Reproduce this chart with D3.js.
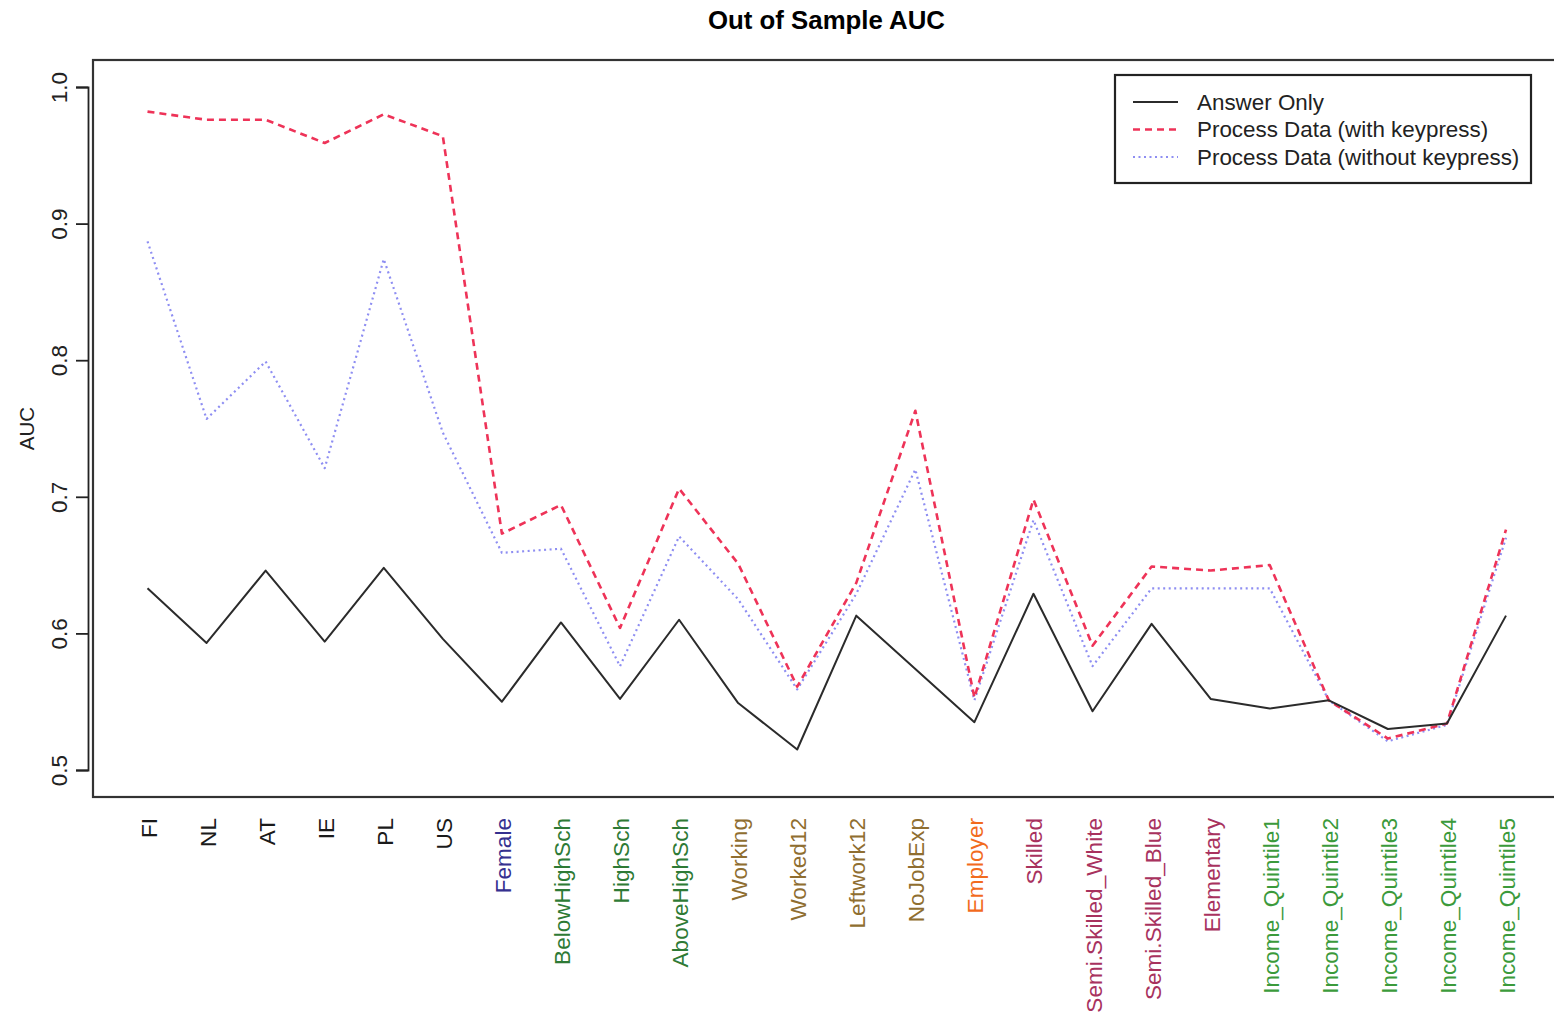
<!DOCTYPE html>
<html>
<head>
<meta charset="utf-8">
<script src="https://cdn.jsdelivr.net/npm/d3@7"></script>
<style>
  body { margin: 0; background: #fff; }
  svg { display: block; font-family: "Liberation Sans", Arial, sans-serif; }
</style>
</head>
<body>
<div id="chart"></div>
<script>
// categories along the x axis
var categories = ["FI", "NL", "AT", "IE", "PL", "US", "Female", "BelowHighSch", "HighSch",
  "AboveHighSch", "Working", "Worked12", "Leftwork12", "NoJobExp", "Employer", "Skilled",
  "Semi.Skilled_White", "Semi.Skilled_Blue", "Elementary", "Income_Quintile1",
  "Income_Quintile2", "Income_Quintile3", "Income_Quintile4", "Income_Quintile5"];

// label colour group for each category
var labelGroups = ["country", "country", "country", "country", "country", "country", "gender",
  "edu", "edu", "edu", "work", "work", "work", "work", "employer", "skill",
  "skill", "skill", "skill", "income", "income", "income", "income", "income"];

var groupColors = {
  country: "#1a1a1a", gender: "#35308f", edu: "#2e7a35", work: "#8f6e30",
  employer: "#f26b1d", skill: "#a8325e", income: "#3b9a3b"
};

// AUC values
var answerOnly = [0.633, 0.593, 0.646, 0.594, 0.648, 0.596, 0.550, 0.608, 0.552, 0.610, 0.549,
  0.515, 0.613, 0.574, 0.535, 0.629, 0.543, 0.607, 0.552, 0.545, 0.551, 0.530, 0.534, 0.613];
var withKeypress = [0.982, 0.976, 0.976, 0.959, 0.980, 0.964, 0.673, 0.694, 0.604, 0.706, 0.651,
  0.561, 0.637, 0.763, 0.553, 0.698, 0.591, 0.649, 0.646, 0.650, 0.551, 0.523, 0.534, 0.676];
var withoutKeypress = [0.887, 0.757, 0.799, 0.721, 0.874, 0.747, 0.659, 0.662, 0.576, 0.671, 0.625,
  0.559, 0.629, 0.720, 0.551, 0.683, 0.576, 0.633, 0.633, 0.633, 0.551, 0.521, 0.533, 0.670];

var yTicks = [0.5, 0.6, 0.7, 0.8, 0.9, 1.0];

var series = [
  { name: "Answer Only", values: answerOnly, color: "#2b2b2b", width: 2, dash: null },
  { name: "Process Data (with keypress)", values: withKeypress, color: "#ee3358", width: 2.6, dash: "7,5" },
  { name: "Process Data (without keypress)", values: withoutKeypress, color: "#8e8ef2", width: 2.2, dash: "2,3.5" }
];

var width = 1554, height = 1013;
var box = { left: 93, top: 60, right: 1560, bottom: 797 };

var svg = d3.select("#chart").append("svg")
    .attr("width", width)
    .attr("height", height);

var x = d3.scalePoint()
    .domain(categories)
    .range([147.5, 1506]);

var y = d3.scaleLinear()
    .domain([0.5, 1.0])
    .range([770, 87]);

// title
svg.append("text")
    .attr("x", (box.left + box.right) / 2)
    .attr("y", 29)
    .attr("text-anchor", "middle")
    .attr("font-size", 25.8)
    .attr("font-weight", "bold")
    .text("Out of Sample AUC");

// plot box
svg.append("rect")
    .attr("x", box.left).attr("y", box.top)
    .attr("width", box.right - box.left)
    .attr("height", box.bottom - box.top)
    .attr("fill", "none")
    .attr("stroke", "#333")
    .attr("stroke-width", 2.2);

// y axis, labels turned like R's default
var yAxis = svg.append("g")
    .attr("transform", "translate(88,0)")
    .call(d3.axisLeft(y).tickValues(yTicks).tickSize(12).tickFormat(d3.format(".1f")));
yAxis.select(".domain").attr("stroke", "#222").attr("stroke-width", 1.8);
yAxis.selectAll(".tick line").attr("stroke", "#222").attr("stroke-width", 1.8);
yAxis.selectAll(".tick text")
    .attr("font-size", 22.5)
    .attr("fill", "#222")
    .attr("font-family", "Liberation Sans, Arial, sans-serif")
    .attr("x", 0).attr("y", 0).attr("dy", null)
    .attr("text-anchor", "middle")
    .attr("dominant-baseline", "central")
    .attr("transform", "translate(-29,0) rotate(-90)");

svg.append("text")
    .attr("transform", "translate(26," + (box.top + box.bottom) / 2 + ") rotate(-90)")
    .attr("text-anchor", "middle")
    .attr("dominant-baseline", "central")
    .attr("font-size", 20.5)
    .attr("fill", "#222")
    .text("AUC");

// x labels, vertical and coloured by group
var xAxis = svg.append("g")
    .attr("transform", "translate(0," + box.bottom + ")")
    .call(d3.axisBottom(x).tickSize(0));
xAxis.select(".domain").remove();
xAxis.selectAll(".tick text")
    .attr("font-size", 22.6)
    .attr("font-family", "Liberation Sans, Arial, sans-serif")
    .attr("fill", function(d, i) { return groupColors[labelGroups[i]]; })
    .attr("x", 0).attr("y", 0).attr("dy", null)
    .attr("text-anchor", "end")
    .attr("dominant-baseline", "central")
    .attr("transform", "translate(1,21) rotate(-90)");

// the three lines
var line = d3.line()
    .x(function(d, i) { return x(categories[i]); })
    .y(function(d) { return y(d); });

svg.selectAll(".series")
    .data(series.slice().reverse()).enter()
  .append("path")
    .attr("class", "series")
    .attr("d", function(s) { return line(s.values); })
    .attr("fill", "none")
    .attr("stroke", function(s) { return s.color; })
    .attr("stroke-width", function(s) { return s.width; })
    .attr("stroke-dasharray", function(s) { return s.dash; })
    .attr("stroke-linejoin", "round");

// legend
var legend = svg.append("g");
legend.append("rect")
    .attr("x", 1115).attr("y", 75)
    .attr("width", 416).attr("height", 108)
    .attr("fill", "#fff")
    .attr("stroke", "#222")
    .attr("stroke-width", 2.2);

var rows = legend.selectAll(".row")
    .data(series).enter()
  .append("g")
    .attr("transform", function(d, i) { return "translate(0," + (102 + i * 27.5) + ")"; });
rows.append("line")
    .attr("x1", 1133).attr("x2", 1178)
    .attr("stroke", function(s) { return s.color; })
    .attr("stroke-width", function(s) { return s.width; })
    .attr("stroke-dasharray", function(s) { return s.dash; });
rows.append("text")
    .attr("x", 1197)
    .attr("dominant-baseline", "central")
    .attr("font-size", 22.4)
    .attr("fill", "#222")
    .text(function(s) { return s.name; });
</script>
</body>
</html>
